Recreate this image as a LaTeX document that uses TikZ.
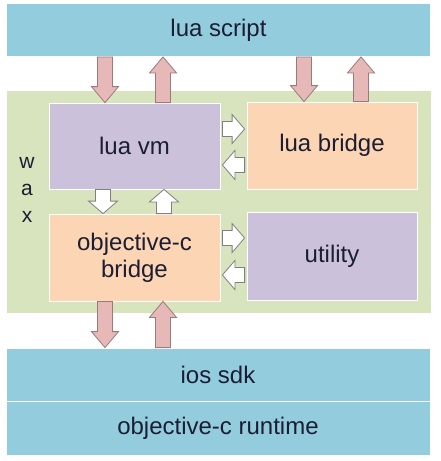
\documentclass[tikz,border=0pt]{standalone}
\usepackage{fontspec}
\setmainfont{Liberation Sans}
\usetikzlibrary{calc,shadows}
\definecolor{lblue}{HTML}{93CDDD}
\definecolor{wgreen}{HTML}{D7E4BD}
\definecolor{lpurple}{HTML}{CCC1DA}
\definecolor{lorange}{HTML}{FCD5B5}
\definecolor{pinkfill}{HTML}{E6B9B8}
\definecolor{pinkline}{HTML}{9C7A79}
\definecolor{txt}{HTML}{1B1E33}
\begin{document}
\begin{tikzpicture}[x=1pt,y=-1pt,
  blk/.style={draw=white, line width=0.8pt, inner sep=0pt, align=center,
    font=\fontsize{24}{27}\selectfont, text=txt,
    drop shadow={shadow xshift=0.8pt, shadow yshift=-0.8pt, opacity=0.25}},
  blockarrow/.style n args={3}{to path={
    let \p1=(\tikztostart), \p2=(\tikztotarget),
        \n1={veclen(\x2-\x1,\y2-\y1)},
        \p3=({(\x2-\x1)/\n1},{(\y2-\y1)/\n1})
    in ({\x1-#1*\y3},{\y1+#1*\x3})
    -- ({\x1+(\n1-#3)*\x3-#1*\y3},{\y1+(\n1-#3)*\y3+#1*\x3})
    -- ({\x1+(\n1-#3)*\x3-#2*\y3},{\y1+(\n1-#3)*\y3+#2*\x3})
    -- (\p2)
    -- ({\x1+(\n1-#3)*\x3+#2*\y3},{\y1+(\n1-#3)*\y3-#2*\x3})
    -- ({\x1+(\n1-#3)*\x3+#1*\y3},{\y1+(\n1-#3)*\y3-#1*\x3})
    -- ({\x1+#1*\y3},{\y1-#1*\x3})
    -- cycle}},
  parrow/.style={blockarrow={7.5}{13.5}{16}, fill=pinkfill, draw=pinkline, line width=0.8pt, line join=miter},
  warrow/.style={blockarrow={7.5}{14.5}{12.5}, fill=white, draw=black!50, line width=0.8pt, line join=miter}
]
\useasboundingbox (0,0) rectangle (440,461);
\fill[white] (0,0) rectangle (440,461);

% layers
\node[blk, fill=lblue, minimum width=424pt, minimum height=53pt] (script) at (218.5,30) {lua script};
\node[blk, fill=wgreen, minimum width=425pt, minimum height=223pt] (wax) at (218.5,201.5) {};
\node[font=\fontsize{21}{27}\selectfont, text=txt, align=center, inner sep=0pt] (waxlbl) at (27,190) {w\\a\\x};
\node[blk, fill=lpurple, minimum width=171pt, minimum height=86pt] (vm) at (134.5,146) {lua vm};
\node[blk, fill=lorange, minimum width=170pt, minimum height=87pt] (lb) at (332,145.5) {lua bridge};
\node[blk, fill=lorange, minimum width=171pt, minimum height=87pt] (ob) at (134.5,257.5) {objective-c\\bridge};
\node[blk, fill=lpurple, minimum width=170pt, minimum height=88pt] (ut) at (332,256) {utility};
\node[blk, fill=lblue, minimum width=424pt, minimum height=53pt] (ios) at (218,374.5) {ios sdk};
\node[blk, fill=lblue, minimum width=424pt, minimum height=54pt] (rt) at (218,428) {objective-c runtime};

% guide coordinates
\coordinate (c105) at (105,0);
\coordinate (c163) at (163,0);
\coordinate (c304) at (304,0);
\coordinate (c361) at (361,0);
\coordinate (c103) at (103,0);
\coordinate (c164) at (164,0);
\coordinate (r129) at (0,129);
\coordinate (r165) at (0,165);
\coordinate (r238) at (0,238);
\coordinate (r275) at (0,275);

% pink arrows
\draw[parrow] (script.south -| c105) to (vm.north -| c105);
\draw[parrow] (vm.north -| c163) to (script.south -| c163);
\draw[parrow] (script.south -| c304) to (lb.north -| c304);
\draw[parrow] (lb.north -| c361) to (script.south -| c361);
\draw[parrow] (ob.south -| c105) to (ios.north -| c105);
\draw[parrow] (ios.north -| c163) to (ob.south -| c163);

% white arrows
\draw[warrow] ($(vm.east |- r129)+(2,0)$) to ($(lb.west |- r129)+(-2,0)$);
\draw[warrow] ($(lb.west |- r165)+(-2,0)$) to ($(vm.east |- r165)+(2,0)$);
\draw[warrow] (vm.south -| c103) to (ob.north -| c103);
\draw[warrow] (ob.north -| c164) to (vm.south -| c164);
\draw[warrow] ($(ob.east |- r238)+(2,0)$) to ($(ut.west |- r238)+(-2,0)$);
\draw[warrow] ($(ut.west |- r275)+(-2,0)$) to ($(ob.east |- r275)+(2,0)$);
\end{tikzpicture}
\end{document}
